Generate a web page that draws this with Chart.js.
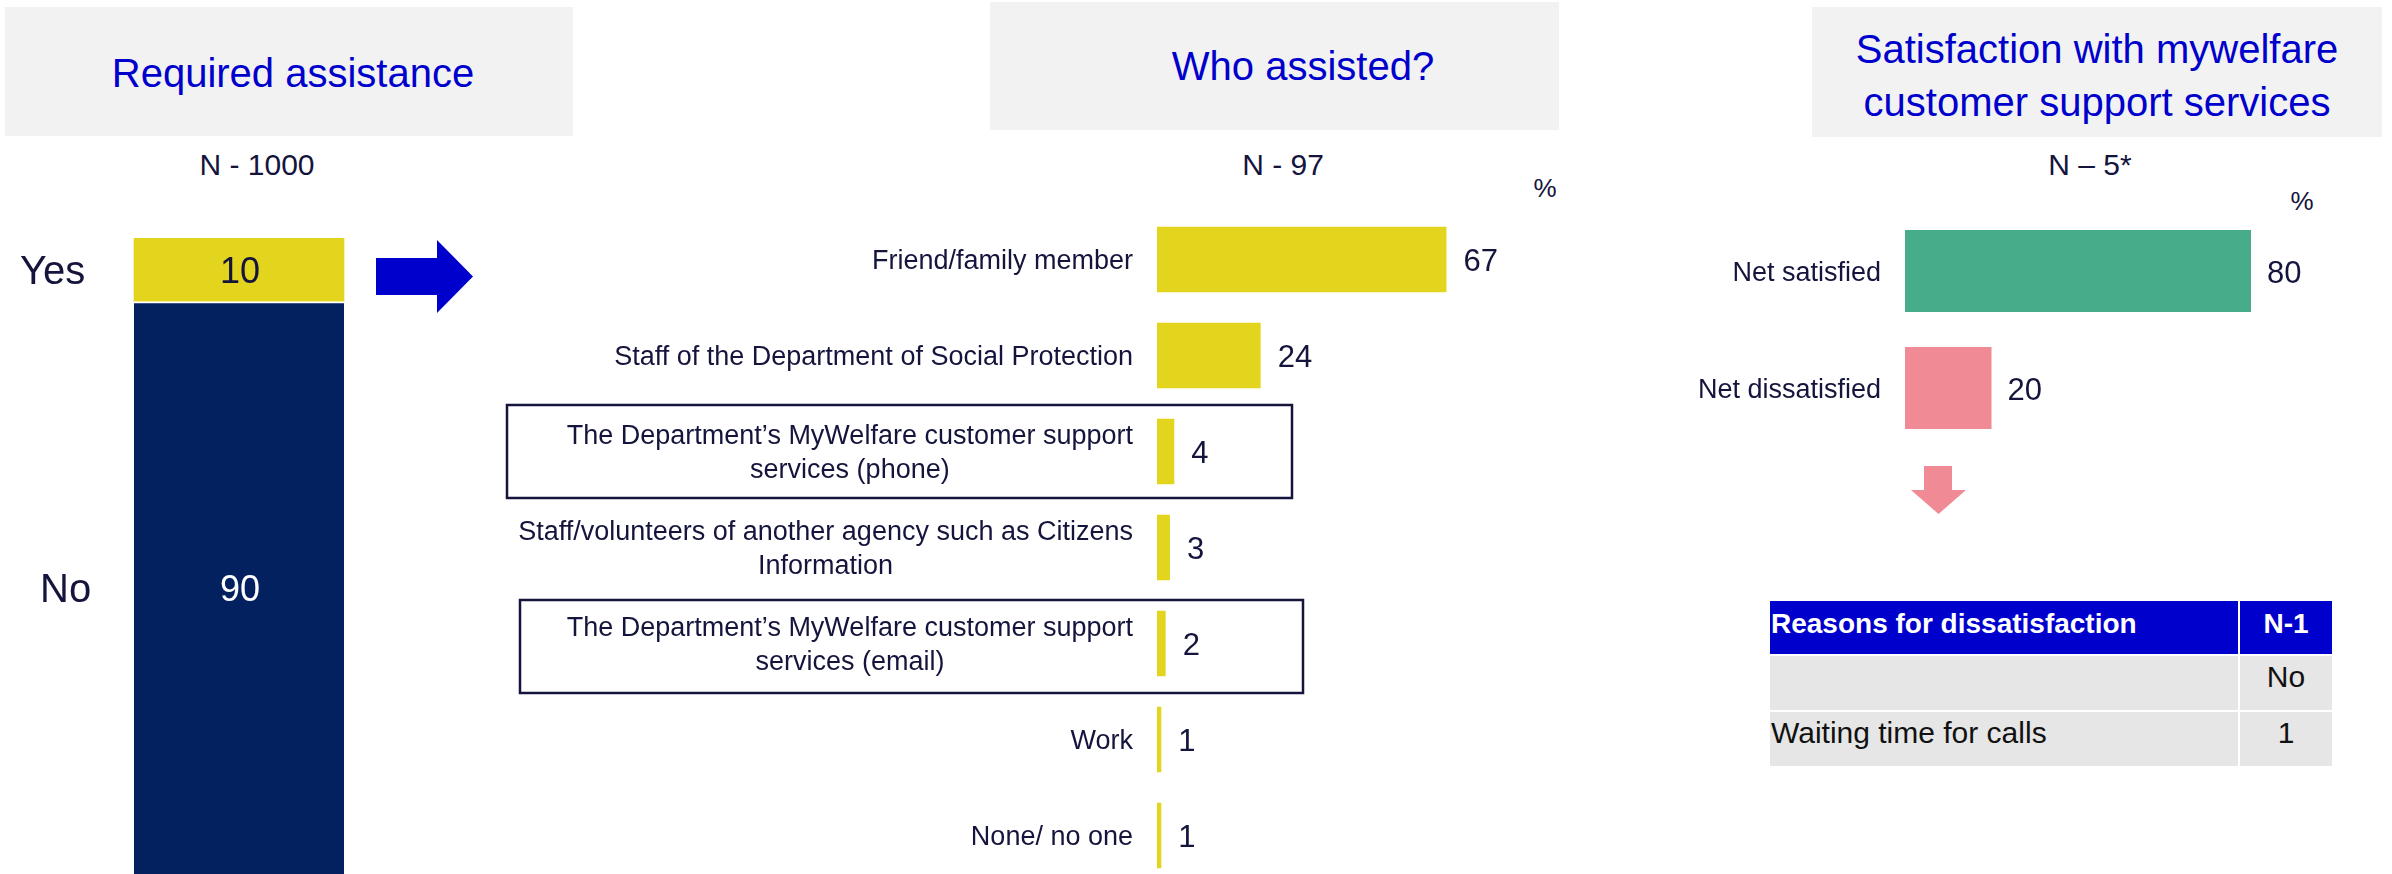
<!DOCTYPE html>
<html><head><meta charset="utf-8">
<script src="https://cdn.jsdelivr.net/npm/chart.js@4.4.1/dist/chart.umd.min.js"></script>
<style>
html,body{margin:0;padding:0;width:2392px;height:874px;overflow:hidden;background:#fff;font-family:"Liberation Sans",Arial,sans-serif;color:#14143c}
.tbox{position:absolute;background:#f2f2f2;color:#0000cc;font-size:40px;display:flex;align-items:center;justify-content:center;text-align:center;line-height:53px;box-sizing:border-box}
.ntext{position:absolute;font-size:30px;transform:translate(-50%,-50%);white-space:nowrap;line-height:1}
canvas{position:absolute}
svg{position:absolute}
#reasons{position:absolute;left:1768px;top:599px;border-collapse:separate;border-spacing:2px;font-size:30px;color:#111}
#reasons td{padding:0;background:#e6e6e6;vertical-align:middle;white-space:nowrap;line-height:1}
#reasons tr.hd td{background:#0000cc;color:#fff;font-weight:bold;font-size:28px}
</style></head><body>

<div class="tbox" style="left:5px;top:7px;width:568px;height:129px;padding-left:8px;padding-top:3px">Required assistance</div>
<div class="tbox" style="left:990px;top:2px;width:569px;height:128px;padding-left:57px">Who assisted?</div>
<div class="tbox" style="left:1812px;top:7px;width:570px;height:130px;padding-top:7px">Satisfaction with mywelfare<br>customer support services</div>

<div class="ntext" style="left:257px;top:165px">N - 1000</div>
<div class="ntext" style="left:1283px;top:165px">N - 97</div>
<div class="ntext" style="left:2090px;top:165px">N – 5*</div>
<div class="ntext" style="left:1545px;top:188px;font-size:26px">%</div>
<div class="ntext" style="left:2302px;top:201px;font-size:26px">%</div>

<svg style="left:376px;top:240px" width="97" height="73" viewBox="0 0 97 73"><polygon points="0,18 61,18 61,0 97,36.5 61,73 61,55 0,55" fill="#0000cc"/></svg>
<svg style="left:1911px;top:466px" width="55" height="48" viewBox="0 0 55 48"><polygon points="13,0 41,0 41,24 55,24 27.5,48 0,24 13,24" fill="#f08a94"/></svg>

<canvas id="c1" width="478" height="636" style="left:0;top:238px"></canvas>
<canvas id="c2" width="1120" height="720" style="left:480px;top:180px"></canvas>
<canvas id="c3" width="712" height="300" style="left:1680px;top:180px"></canvas>

<table id="reasons"></table>

<script>
// ---------- DATA ----------
const assistCats = ['Yes', 'No'];
const assistValues = [10, 90];

const whoCats = [
  'Friend/family member',
  'Staff of the Department of Social Protection',
  ['The Department\u2019s MyWelfare customer support', 'services (phone)'],
  ['Staff/volunteers of another agency such as Citizens', 'Information'],
  ['The Department\u2019s MyWelfare customer support', 'services (email)'],
  'Work',
  'None/ no one'
];
const whoValues = [67, 24, 4, 3, 2, 1, 1];
const whoBoxed = [2, 4];

const satCats = ['Net satisfied', 'Net dissatisfied'];
const satValues = [80, 20];

const reasonHeader = ['Reasons for dissatisfaction', 'N-1'];
const reasonRows = [['', 'No'], ['Waiting time for calls', '1']];

// ---------- STYLE ----------
const FONT = '"Liberation Sans", Arial, sans-serif';
const TXT = '#14143c';
const YELLOW = '#e3d51e';
const NAVY = '#02215e';
const assistColors = [YELLOW, NAVY];
const assistValueColors = [TXT, '#ffffff'];
const assistLabelX = [20, 40];
const satColors = ['#46ac8a', '#f08a94'];
const boxStyle = [{x0: 27, x1: 812, dy: 0}, {x0: 40, x1: 823, dy: 3}];

Chart.defaults.font.family = FONT;

// ---------- CHART 1 : stacked column ----------
const assistDatasets = assistCats.map((c, i) => ({
  label: c,
  data: [assistValues[i]],
  backgroundColor: assistColors[i],
  borderColor: '#ffffff',
  borderWidth: i === 1 ? {top: 2, left: 0, right: 0, bottom: 0} : 0,
  borderSkipped: false,
  barThickness: 210
})).reverse();

new Chart(document.getElementById('c1'), {
  type: 'bar',
  data: {labels: ['Required assistance'], datasets: assistDatasets},
  options: {
    responsive: false, animation: false, devicePixelRatio: 1,
    layout: {padding: 0},
    plugins: {legend: {display: false}, tooltip: {enabled: false}},
    scales: {
      x: {display: false, stacked: true},
      y: {display: false, stacked: true, min: 0, max: 100}
    }
  },
  plugins: [{
    id: 'assistLabels',
    afterDatasetsDraw(chart) {
      const ctx = chart.ctx;
      ctx.save();
      chart.data.datasets.forEach((ds, di) => {
        const idx = assistCats.indexOf(ds.label);
        const bar = chart.getDatasetMeta(di).data[0];
        const cy = (bar.y + bar.base) / 2;
        ctx.textBaseline = 'middle';
        ctx.font = '36px ' + FONT;
        ctx.fillStyle = assistValueColors[idx];
        ctx.textAlign = 'center';
        ctx.fillText(String(assistValues[idx]), bar.x + 1, cy + 3);
        ctx.font = '40px ' + FONT;
        ctx.fillStyle = TXT;
        ctx.textAlign = 'left';
        ctx.fillText(assistCats[idx], assistLabelX[idx], cy + 3);
      });
      ctx.restore();
    }
  }]
});

// ---------- CHART 2 : who assisted ----------
new Chart(document.getElementById('c2'), {
  type: 'bar',
  data: {labels: whoCats, datasets: [{data: whoValues, backgroundColor: YELLOW, barPercentage: 0.68, categoryPercentage: 1}]},
  options: {
    indexAxis: 'y', responsive: false, animation: false, devicePixelRatio: 1,
    layout: {padding: {left: 677, right: 11, top: 31.5, bottom: 16.5}},
    plugins: {legend: {display: false}, tooltip: {enabled: false}},
    scales: {x: {display: false, min: 0, max: 100}, y: {display: false}}
  },
  plugins: [{
    id: 'whoLabels',
    afterDatasetsDraw(chart) {
      const ctx = chart.ctx;
      const meta = chart.getDatasetMeta(0);
      ctx.save();
      ctx.textBaseline = 'middle';
      meta.data.forEach((bar, i) => {
        // category labels
        ctx.font = '27px ' + FONT;
        ctx.fillStyle = TXT;
        const lab = whoCats[i];
        const rightX = chart.chartArea.left - 24;
        if (Array.isArray(lab)) {
          const w = Math.max(...lab.map(l => ctx.measureText(l).width));
          const cx = rightX - w / 2;
          ctx.textAlign = 'center';
          const lh = 34;
          lab.forEach((l, k) => ctx.fillText(l, cx, bar.y + 2 + (k - (lab.length - 1) / 2) * lh));
        } else {
          ctx.textAlign = 'right';
          ctx.fillText(lab, rightX, bar.y + 2);
        }
        // values
        ctx.font = '31px ' + FONT;
        ctx.textAlign = 'left';
        ctx.fillText(String(whoValues[i]), bar.x + 17, bar.y + 3);
      });
      // highlight boxes
      ctx.strokeStyle = TXT;
      ctx.lineWidth = 2.5;
      whoBoxed.forEach((idx, k) => {
        const bar = meta.data[idx];
        const s = boxStyle[k];
        ctx.strokeRect(s.x0, bar.y - 46.5 + s.dy, s.x1 - s.x0, 93);
      });
      ctx.restore();
    }
  }]
});

// ---------- CHART 3 : satisfaction ----------
new Chart(document.getElementById('c3'), {
  type: 'bar',
  data: {labels: satCats, datasets: [{data: satValues, backgroundColor: satColors, barPercentage: 0.7, categoryPercentage: 1}]},
  options: {
    indexAxis: 'y', responsive: false, animation: false, devicePixelRatio: 1,
    layout: {padding: {left: 225, right: 54.5, top: 32.5, bottom: 33.5}},
    plugins: {legend: {display: false}, tooltip: {enabled: false}},
    scales: {x: {display: false, min: 0, max: 100}, y: {display: false}}
  },
  plugins: [{
    id: 'satLabels',
    afterDatasetsDraw(chart) {
      const ctx = chart.ctx;
      const meta = chart.getDatasetMeta(0);
      ctx.save();
      ctx.textBaseline = 'middle';
      ctx.fillStyle = TXT;
      meta.data.forEach((bar, i) => {
        ctx.font = '27px ' + FONT;
        ctx.textAlign = 'right';
        ctx.fillText(satCats[i], chart.chartArea.left - 24, bar.y + 3);
        ctx.font = '31px ' + FONT;
        ctx.textAlign = 'left';
        ctx.fillText(String(satValues[i]), bar.x + 16, bar.y + 3);
      });
      ctx.restore();
    }
  }]
});

// ---------- TABLE ----------
const colW = [467, 92];
const rowH = [53, 54, 54];
const rowPadB = [7, 12, 12];
const tbl = document.getElementById('reasons');
[reasonHeader, ...reasonRows].forEach((row, r) => {
  const tr = document.createElement('tr');
  if (r === 0) tr.className = 'hd';
  row.forEach((cell, c) => {
    const td = document.createElement('td');
    td.textContent = cell;
    td.style.width = colW[c] + 'px';
    td.style.height = (rowH[r] - rowPadB[r]) + 'px';
    td.style.paddingBottom = rowPadB[r] + 'px';
    td.style.textAlign = c === 0 ? 'left' : 'center';
    if (c === 0) td.style.paddingLeft = '1px';
    tr.appendChild(td);
  });
  tbl.appendChild(tr);
});
</script>
</body></html>
